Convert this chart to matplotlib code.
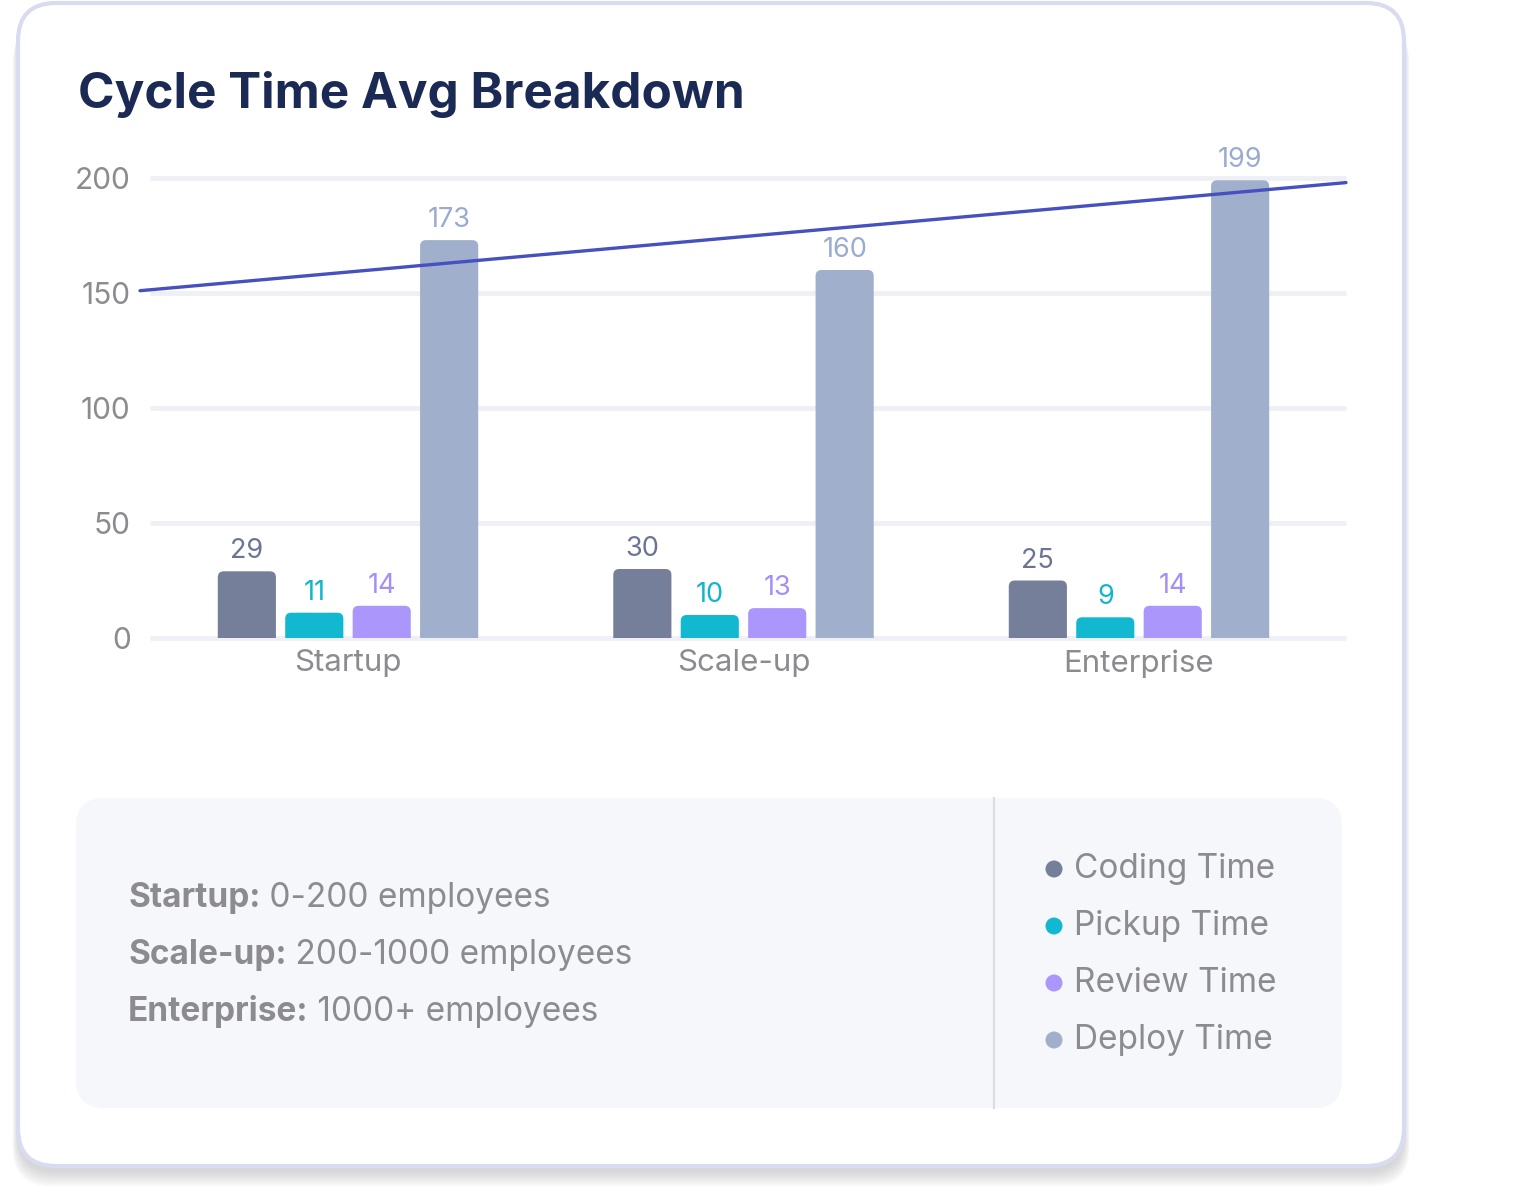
import matplotlib
matplotlib.use("Agg")
import matplotlib.pyplot as plt
from matplotlib.patches import FancyBboxPatch, Circle
import numpy as np

plt.rcParams['font.family'] = ['Inter', 'DejaVu Sans']

# ---------------- data ----------------
categories = ["Startup", "Scale-up", "Enterprise"]
series_names = ["Coding Time", "Pickup Time", "Review Time", "Deploy Time"]
coding = [29, 30, 25]
pickup = [11, 10, 9]
review = [14, 13, 14]
deploy = [173, 160, 199]
trend_start, trend_end = 151, 198
yticks = [0, 50, 100, 150, 200]
descriptions = [("Startup:", " 0-200 employees"),
                ("Scale-up:", " 200-1000 employees"),
                ("Enterprise:", " 1000+ employees")]
title = "Cycle Time Avg Breakdown"

bar_colors = ["#767f99", "#12b8cf", "#ab97fb", "#a0afcc"]
label_colors = ["#6b7593", "#12b5cc", "#a48ff6", "#9aabcf"]
gray = "#8c8c90"

W, H = 1516, 1202
fig = plt.figure(figsize=(W / 100, H / 100), dpi=100)

# ---------------- background / card ----------------
bg = fig.add_axes([0, 0, 1, 1], zorder=0)
bg.set_xlim(0, W)
bg.set_ylim(H, 0)
bg.axis("off")

# shadow
for i in range(10):
    sh = FancyBboxPatch((18 - i * 0.6, 10 + i * 1.6), 1386 + i * 1.2, 1162,
                        boxstyle="round,pad=0,rounding_size=38",
                        fc="#9a9aa0", ec="none", alpha=0.045, zorder=1)
    bg.add_patch(sh)
card = FancyBboxPatch((18, 3), 1386, 1163, boxstyle="round,pad=0,rounding_size=38",
                      fc="white", ec="#d9dcf1", lw=3, zorder=2)
bg.add_patch(card)

bg.text(78, 108, title, fontsize=35.6, fontweight="bold", color="#1b2a55",
        va="baseline", ha="left", zorder=3)

# info panel
panel = FancyBboxPatch((76, 798), 1266, 310, boxstyle="round,pad=0,rounding_size=28",
                       fc="#f6f7fb", ec="none", zorder=3)
bg.add_patch(panel)
bg.plot([994, 994], [798, 1108], color="#dcdde2", lw=1.6, zorder=4)

for i, (b, r) in enumerate(descriptions):
    y = 898 + i * 57
    t1 = bg.text(128, y, b, fontsize=24, fontweight="bold", color=gray,
                 va="center", ha="left", zorder=5)
    bg.annotate(r, xy=(1, 0), xycoords=t1, fontsize=24, color=gray,
                va="bottom", ha="left", zorder=5)

for i, (name, c) in enumerate(zip(series_names, bar_colors)):
    y = 869 + i * 57
    bg.add_patch(Circle((1054, y), 8.5, fc=c, ec="none", zorder=5))
    bg.text(1074, y, name, fontsize=24, color=gray, va="center", ha="left", zorder=5)

# ---------------- chart ----------------
ax_left, ax_right = 150, 1346
ax_top, ax_bot = 178, 638
ax = fig.add_axes([ax_left / W, 1 - ax_bot / H, (ax_right - ax_left) / W,
                   (ax_bot - ax_top) / H], zorder=5)
ax.patch.set_alpha(0)

x = np.arange(len(categories))
step = 0.1705
width = 0.147
xpx = 395.5  # pixels per category unit
ax.set_xlim(-(348 - ax_left) / xpx, 2 + (ax_right - 1139) / xpx)
ax.set_ylim(0, 200)
ypx = (ax_bot - ax_top) / 200.0

series = [coding, pickup, review, deploy]
radius_px = 6
for k, vals in enumerate(series):
    offs = (k - 1.5) * step
    bars = ax.bar(x + offs, vals, width, color=bar_colors[k], alpha=0)
    for bar, v in zip(bars, vals):
        rx = radius_px / xpx
        p = FancyBboxPatch((bar.get_x(), -10), bar.get_width(), bar.get_height() + 10,
                           boxstyle=f"round,pad=0,rounding_size={rx}",
                           mutation_aspect=xpx / ypx,
                           fc=bar_colors[k], ec="none", zorder=3)
        ax.add_patch(p)
        ax.annotate(str(v), (bar.get_x() + bar.get_width() / 2, bar.get_height()),
                    xytext=(0, 5), textcoords="offset points", ha="center", va="bottom",
                    fontsize=19.5, color=label_colors[k], zorder=4)

# trend line
xl = ax.get_xlim()
ax.plot([xl[0] - 10 / xpx, xl[1]], [trend_start, trend_end], color="#4650bf", lw=2.4,
        solid_capstyle="round", clip_on=False, zorder=6)

ax.set_yticks(yticks)
ax.set_yticklabels([str(v) for v in yticks])
ax.set_xticks(x)
ax.set_xticklabels(categories)
ax.tick_params(axis="y", length=0, pad=14, labelsize=21.5, labelcolor=gray)
ax.tick_params(axis="x", length=0, pad=8, labelsize=22.5, labelcolor=gray)
ax.grid(axis="y", color="#eef0f6", lw=3.5, zorder=0, solid_capstyle="butt")
ax.set_axisbelow(True)
for gl in ax.get_ygridlines():
    gl.set_clip_on(False)
for s in ax.spines.values():
    s.set_visible(False)

fig.savefig("out.png", dpi=100)
